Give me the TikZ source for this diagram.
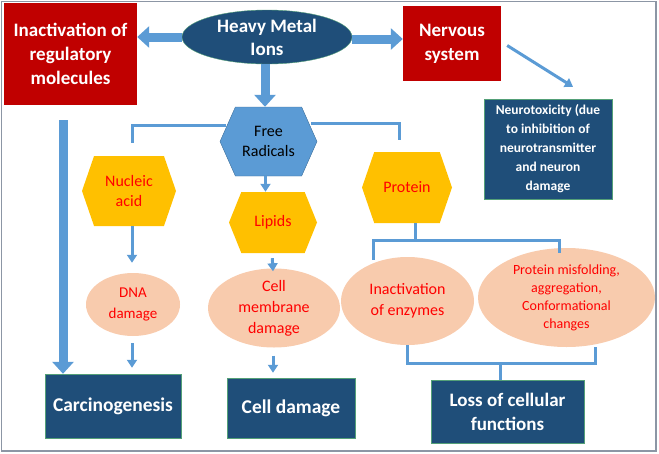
\documentclass[tikz,border=0pt]{standalone}
\usepackage{fontspec}
\setmainfont{Carlito}
\usetikzlibrary{arrows.meta,shapes.geometric,shapes.symbols}
\definecolor{ionblue}{RGB}{31,78,121}
\definecolor{boxred}{RGB}{192,0,0}
\definecolor{arrowblue}{RGB}{91,155,213}
\definecolor{radedge}{RGB}{65,113,156}
\definecolor{hexorange}{RGB}{255,192,0}
\definecolor{peach}{RGB}{248,203,173}
\definecolor{edgegreen}{RGB}{84,160,120}
\definecolor{frame}{RGB}{140,150,165}
\begin{document}
\begin{tikzpicture}[x=1pt,y=-1pt,
  bigtext/.style={font=\bfseries\fontsize{19}{24}\selectfont},
  darkbox/.style={draw=edgegreen, thin, fill=ionblue, text=white, align=center, inner sep=0pt},
  redbox/.style={fill=boxred, text=white, align=center, inner sep=0pt, bigtext},
  hexa/.style={signal, signal to=west and east, signal pointer angle=142, fill=hexorange,
    text=red, align=center, inner sep=0pt, font=\fontsize{16}{20}\selectfont},
  bubble/.style={ellipse, fill=peach, text=red, align=center, inner sep=0pt},
  fat/.style={arrowblue, line width=9pt, -{Triangle[width=21pt,length=12pt]}},
  smallarrow/.style={arrowblue, line width=3pt, -{Triangle[width=10pt,length=8pt]}},
  link/.style={arrowblue, line width=3pt, line join=miter}]
\useasboundingbox (0,0) rectangle (659,453);
\draw[frame, line width=1.2pt] (1.5,1.5) rectangle (656,451);

% top row
\node[ellipse, darkbox, bigtext, minimum width=170pt, minimum height=54pt,
  font=\bfseries\fontsize{19}{23}\selectfont] (ions) at (267,37) {Heavy Metal\\Ions};
\node[redbox, minimum width=133pt, minimum height=102pt] (reg) at (70.5,54) {Inactivation of\\regulatory\\molecules};
\node[redbox, minimum width=98pt, minimum height=75pt] (nerv) at (452,43.5) {Nervous\\system};
\node[darkbox, minimum width=128pt, minimum height=100pt, font=\bfseries\fontsize{13.5}{19}\selectfont] (neuro) at (548,149)
  {Neurotoxicity (due\\to inhibition of\\neurotransmitter\\and neuron\\damage};

% hexagons
\node[hexa, fill=arrowblue, draw=radedge, text=black, signal pointer angle=132,
  minimum width=97pt, minimum height=69pt] (rad) at (268.5,141.5) {Free\\Radicals};
\node[hexa, minimum width=94pt, minimum height=70pt] (nuc) at (129,191) {Nucleic\\acid};
\node[hexa, signal pointer angle=136, minimum width=88pt, minimum height=61pt] (lip) at (273,222.5) {Lipids};
\node[hexa, minimum width=90pt, minimum height=71pt] (prot) at (407,187.5) {Protein};

% effects
\node[bubble, minimum width=94pt, minimum height=63pt, font=\fontsize{15}{21}\selectfont] (dna) at (133,304.5) {DNA\\damage};
\node[bubble, minimum width=132pt, minimum height=70pt, font=\fontsize{16}{21}\selectfont] (memb) at (274,308) {Cell\\membrane\\damage};
\node[bubble, minimum width=133pt, minimum height=88pt, font=\fontsize{16}{21}\selectfont] (enz) at (407.5,301) {Inactivation\\of enzymes};
\node[bubble, minimum width=177pt, minimum height=99pt, font=\fontsize{14}{18}\selectfont] (misf) at (566.5,297.5)
  {Protein misfolding,\\aggregation,\\Conformational\\changes};

% outcomes
\node[darkbox, bigtext, minimum width=136pt, minimum height=64pt, font=\bfseries\fontsize{19.5}{24}\selectfont] (carc) at (113,406) {Carcinogenesis};
\node[darkbox, bigtext, minimum width=128pt, minimum height=60pt, font=\bfseries\fontsize{19.5}{24}\selectfont] (celld) at (291,408) {Cell damage};
\node[darkbox, bigtext, minimum width=153pt, minimum height=63pt] (loss) at (507.5,411.5) {Loss of cellular\\functions};

% arrows
\draw[fat] (ions.west) -- (ions.west -| reg.east);
\draw[fat] ([yshift=-2pt]ions.east) -- ([yshift=-2pt]ions.east -| nerv.west);
\draw[fat] ([xshift=-2pt]ions.south) -- ([xshift=-2pt]ions.south |- rad.north);
\draw[smallarrow] ([xshift=6pt,yshift=-2pt]nerv.east) -- ([xshift=25pt,yshift=12pt]neuro.north);
\draw[smallarrow] ([xshift=-3pt]rad.south) -- ([xshift=-3pt]rad.south |- lip.north);

\coordinate (carTop) at (63,120);
\draw[fat, line width=9pt] (carTop) -- (carTop |- carc.north);

% branches from free radicals
\draw[link] ([xshift=6pt,yshift=16pt]rad.west) -| ([xshift=3pt,yshift=13pt]nuc.north);
\draw[link] ([xshift=-6pt,yshift=18pt]rad.east) -| ([xshift=-8pt,yshift=12pt]prot.north);

\draw[smallarrow] ([xshift=3pt]nuc.south) -- ([xshift=-1pt,yshift=10pt]dna.north);
\draw[smallarrow, shorten <=7pt] ([xshift=-1pt]dna.south) -- ([xshift=-1pt,yshift=6pt]dna.south |- carc.north);
\draw[smallarrow, shorten <=5pt] ([xshift=-1pt]lip.south) -- ([xshift=-1pt,yshift=-3pt]memb.north);
\draw[smallarrow, shorten <=8pt] ([xshift=-1pt]memb.south) -- ([xshift=-1pt,yshift=5pt]memb.south |- celld.north);

% protein brackets
\coordinate (pj) at ([xshift=8pt,yshift=-17pt]prot.south);
\draw[link] ([xshift=8pt]prot.south) -- (pj);
\draw[link] ([xshift=-34pt,yshift=-3pt]enz.north) |- (pj) -| ([xshift=-7pt,yshift=-5pt]misf.north);
\coordinate (lj) at ([xshift=-7pt,yshift=16pt]loss.north);
\draw[link] (enz.south) |- (lj) -| ([xshift=29pt]misf.south);
\draw[link] (lj) -- ([xshift=-7pt]loss.north);
\end{tikzpicture}
\end{document}
